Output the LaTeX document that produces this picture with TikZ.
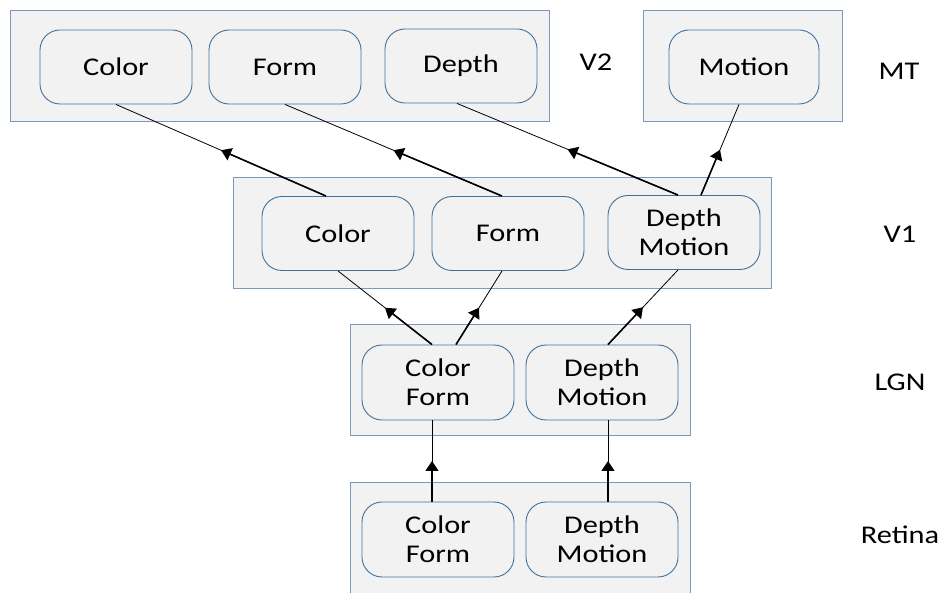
\documentclass[tikz,border=0pt]{standalone}
\usepackage{fontspec}
\setmainfont{Carlito}[FakeStretch=1.19]
\usetikzlibrary{calc,arrows.meta}

\definecolor{panelfill}{HTML}{F2F2F2}
\definecolor{panelline}{HTML}{7F96BF}
\definecolor{unitline}{HTML}{41719C}

\tikzset{
  area/.style={draw=panelline, line width=1pt, fill=panelfill, inner sep=0pt},
  unit/.style={draw=unitline, line width=0.9pt, fill=panelfill, rounded corners=20pt,
    minimum width=152pt, minimum height=74pt, inner sep=0pt, align=center,
    font=\fontsize{25.5}{29}\selectfont},
  tag/.style={font=\fontsize{25.5}{29}\selectfont, inner sep=0pt},
  wire/.style={line width=0.8pt, draw=black},
  feed/.style={line width=1.6pt, draw=black, -{Triangle[length=10pt,width=13pt]}}
}

% connector with its arrowhead half-way, pointing from #1 to #2
\newcommand{\feedup}[2]{%
  \draw[wire] (#1) -- (#2);
  \draw[feed] (#1) -- ($(#1)!0.5!(#2)$);
}

\begin{document}
\begin{tikzpicture}[x=1pt, y=-1pt]
\useasboundingbox (0,0) rectangle (946,593);
\clip (0,0) rectangle (946,593);
\fill[white] (0,0) rectangle (946,593);

% cortical areas
\node[area, minimum width=539pt, minimum height=111pt] (v2) at (279.5,66.5) {};
\node[area, minimum width=199pt, minimum height=111pt] (mt) at (742.5,66.5) {};
\node[area, minimum width=538pt, minimum height=111pt] (v1) at (502,233.5) {};
\node[area, minimum width=340pt, minimum height=111pt] (lgn) at (520,380.5) {};
\node[area, minimum width=340pt, minimum height=160pt] (ret) at (520,563) {};

% V2 units
\node[unit] (v2color) at (116,67) {Color};
\node[unit] (v2form)  at (285,67) {Form};
\node[unit] (v2depth) at (461,66) {Depth};
% MT unit
\node[unit, minimum width=150pt] (mtmotion) at (744,67) {Motion};
% V1 units
\node[unit] (v1color) at (338,233.5) {Color};
\node[unit] (v1form)  at (508,233.5) {Form};
\node[unit] (v1dm)    at (684,232.5) {Depth\\Motion};
% LGN units
\node[unit, minimum height=75pt] (lgncf) at (438,382.5) {Color\\Form};
\node[unit, minimum height=75pt] (lgndm) at (602,382.5) {Depth\\Motion};
% Retina units
\node[unit, minimum height=75pt] (retcf) at (438,539.5) {Color\\Form};
\node[unit, minimum height=75pt] (retdm) at (602,539.5) {Depth\\Motion};

% area labels
\node[tag] (lv2)  at (596,62)  {V2};
\node[tag] (lmt)  at (899,71)  {MT};
\node[tag] (lv1)  at (900,234) {V1};
\node[tag] (llgn) at (900,382) {LGN};
\node[tag] (lret) at (900,535) {Retina};

% Retina -> LGN
\feedup{[xshift=-6pt]retcf.north}{[xshift=-6pt]lgncf.south}
\feedup{[xshift=6pt]retdm.north}{[xshift=6pt]lgndm.south}
% LGN -> V1
\feedup{[xshift=-6pt]lgncf.north}{v1color.south}
\feedup{[xshift=18pt]lgncf.north}{[xshift=-6pt]v1form.south}
\feedup{[xshift=6pt]lgndm.north}{[xshift=-6pt]v1dm.south}
% V1 -> V2 and MT
\feedup{[xshift=-12pt]v1color.north}{v2color.south}
\feedup{[xshift=-6pt]v1form.north}{v2form.south}
\feedup{[xshift=-6pt]v1dm.north}{[xshift=-4pt]v2depth.south}
\feedup{[xshift=17pt]v1dm.north}{[xshift=-5pt]mtmotion.south}
\end{tikzpicture}
\end{document}
